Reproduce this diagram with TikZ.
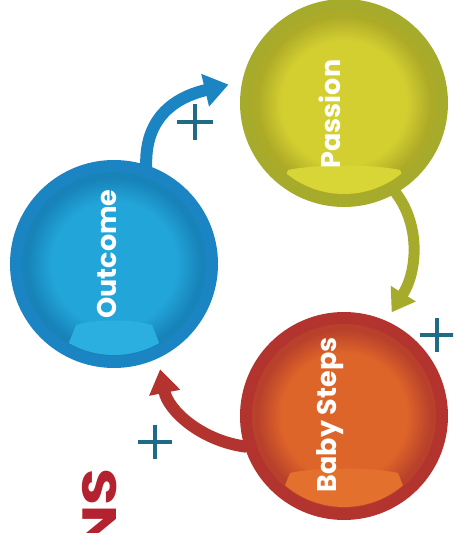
\documentclass[tikz,border=0pt]{standalone}
\usepackage{fontspec}
\newfontfamily\pop{Poppins}
\usetikzlibrary{arrows.meta,calc}
\definecolor{oring}{HTML}{1A85C2}
\definecolor{oin}{HTML}{22A5D9}
\definecolor{oedge}{HTML}{1783B9}
\definecolor{owedge}{HTML}{2AAFE0}
\definecolor{pring}{HTML}{A7AB2B}
\definecolor{pin}{HTML}{D3CF31}
\definecolor{pedge}{HTML}{ADAA28}
\definecolor{pwedge}{HTML}{D8D536}
\definecolor{bring}{HTML}{B3332F}
\definecolor{bin}{HTML}{DE6529}
\definecolor{bedge}{HTML}{B9412B}
\definecolor{bwedge}{HTML}{E4702D}
\definecolor{plusc}{HTML}{1F6A86}
\definecolor{redtxt}{HTML}{B3222E}
\pgfdeclareradialshading{oshade}{\pgfpoint{0bp}{0bp}}{color(0bp)=(oin); color(17bp)=(oin); color(23.5bp)=(oedge); color(25bp)=(oedge); color(50bp)=(oedge)}
\pgfdeclareradialshading{pshade}{\pgfpoint{0bp}{0bp}}{color(0bp)=(pin); color(17bp)=(pin); color(23.5bp)=(pedge); color(25bp)=(pedge); color(50bp)=(pedge)}
\pgfdeclareradialshading{bshade}{\pgfpoint{0bp}{0bp}}{color(0bp)=(bin); color(17bp)=(bin); color(23.5bp)=(bedge); color(25bp)=(bedge); color(50bp)=(bedge)}
\pgfdeclarelayer{bg}
\pgfsetlayers{bg,main}
% wedge: node, half width, top offset, colour
\newcommand\drawwedge[4]{%
  \begin{scope}
    \clip (#1.center) circle (91pt);
    \fill[#4] ([shift={(-#2,#3)}]#1.center)
      .. controls ([shift={(-#2/2,#3-6)}]#1.center) and ([shift={(#2/2,#3-6)}]#1.center)
      .. ([shift={(#2,#3)}]#1.center)
      -- ([shift={(#2+18,#3+45)}]#1.center)
      -- ([shift={(-#2-18,#3+45)}]#1.center) -- cycle;
  \end{scope}}
\newcommand\drawplus[2]{%
  \draw[plussign] ($(#1)+(-#2,0)$) -- ($(#1)+(#2,0)$);
  \draw[plussign] ($(#1)+(0,-#2)$) -- ($(#1)+(0,#2)$);}
\begin{document}
\begin{tikzpicture}[x=1pt,y=-1pt,
  disc/.style={circle, inner sep=0pt, minimum size=208pt},
  conn/.style={line width=12pt},
  plussign/.style={draw=plusc, line width=4pt},
  lbl/.style={text=white, font=\pop\bfseries\fontsize{27}{27}\selectfont, rotate=90, inner sep=0pt}]
\useasboundingbox (0,0) rectangle (453,533);
\clip (0,0) rectangle (453,533);
\begin{pgfonlayer}{bg}
  \fill[white] (0,0) rectangle (453,533);
\end{pgfonlayer}

% circles
\node[disc, fill=oring] (outcome) at (114,264) {};
\node[disc, fill=pring] (passion) at (344,103) {};
\node[disc, fill=bring] (baby) at (344,416) {};

\shade[shading=oshade] (outcome.center) circle (92pt);
\shade[shading=pshade] (passion.center) circle (92pt);
\shade[shading=bshade] (baby.center) circle (92pt);

\drawwedge{outcome}{38}{61}{owedge}
\drawwedge{passion}{56}{67}{pwedge}
\drawwedge{baby}{54}{57}{bwedge}

\node[lbl] (tout) at (107,254) {Outcome};
\node[lbl] (tpas) at (330,114) {Passion};
\node[lbl] (tbab) at (330,415) {Baby Steps};

% connectors
\begin{pgfonlayer}{bg}
  \draw[conn, draw=oring, -{Triangle[length=24pt,width=32pt]}, shorten >=14pt]
    ($(outcome.72)+(0,14)$) -- (outcome.72) .. controls (145,110) and (185,95) .. (passion.168);
  \draw[conn, line width=11pt, draw=pring, -{Triangle[length=22pt,width=28pt]}, shorten >=10pt]
    ($(passion.-60)+(-7,-12)$) -- (passion.-60) .. controls (420,225) and (418,270) .. (baby.66);
  \draw[conn, draw=bring, -{Triangle[length=24pt,width=30pt]}, shorten >=11pt]
    ($(baby.197)+(13,-4)$) -- (baby.197) .. controls (200,440) and (168,410) .. (outcome.-65);
\end{pgfonlayer}

% plus signs
\coordinate (p1) at (195,122);
\coordinate (p2) at (437,335);
\coordinate (p3) at (155,442);
\drawplus{p1}{18}
\drawplus{p2}{17}
\drawplus{p3}{17}

% partial title text
\node[text=redtxt, font=\pop\bfseries\fontsize{48}{48}\selectfont, rotate=90, xscale=1.25, anchor=base east, inner sep=0pt] (title) at (116,468) {NS};
\end{tikzpicture}
\end{document}
